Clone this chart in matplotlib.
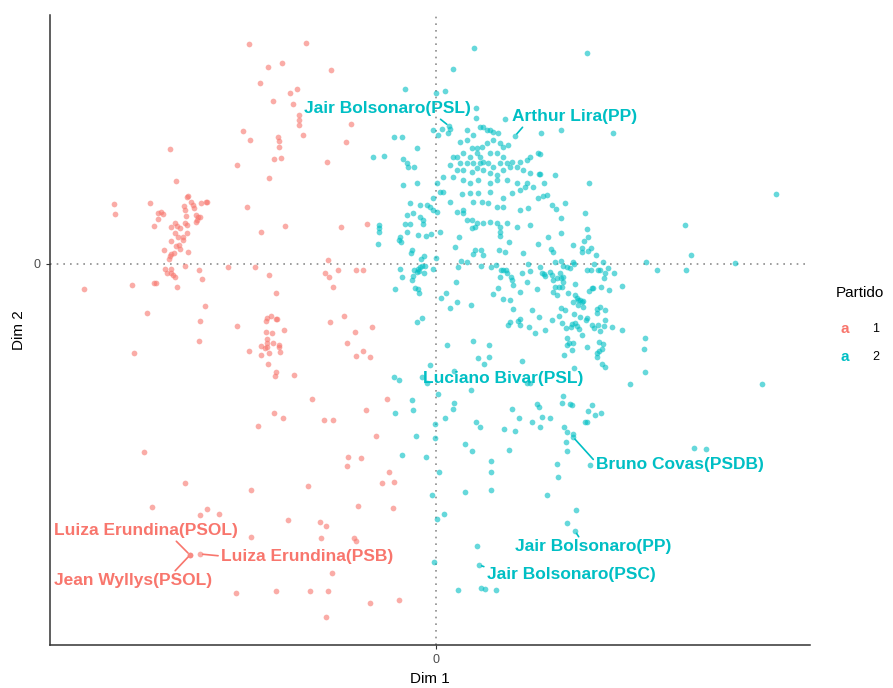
import matplotlib.pyplot as plt
import numpy as np

RED = "#F8766D"
CYAN = "#00BFC4"

# partido 1 (red)
p1_dim1 = [-1.87, -1.68, -1.54, -1.76, -1.46, -1.39, -1.63, -1.43, -1.93, -1.86, -1.58, -1.57, -1.57,
           -1.62, -1.55, -1.99, -1.67, -2.66, -2.60, -3.22, -3.21, -2.86, -2.78, -2.75, -2.73, -2.78,
           -2.82, -2.65, -2.61, -2.59, -2.56, -2.51, -2.49, -2.48, -2.49, -2.45, -2.43, -2.52, -2.51,
           -2.50, -2.42, -2.35, -2.30, -2.29, -2.40, -2.38, -2.36, -2.39, -2.40, -1.89, -1.51, -1.30,
           -1.05, -1.37, -1.37, -1.37, -1.33, -0.85, -0.90, -1.09, -0.95, -0.69, -2.61, -2.58, -2.53,
           -2.49, -2.65, -2.60, -2.57, -2.56, -2.53, -2.62, -2.65, -2.66, -2.67, -2.72, -2.48, -1.75,
           -2.51, -2.71, -2.69, -2.65, -2.65, -2.63, -2.61, -2.59, -2.37, -2.34, -2.82, -2.80, -3.04,
           -3.52, -2.08, -1.81, -1.67, -1.60, -2.31, -2.89, -2.36, -2.37, -1.99, -3.02, -1.69, -1.65,
           -1.60, -1.59, -1.70, -1.52, -1.70, -1.64, -1.69, -1.69, -1.69, -1.71, -1.63, -1.57, -1.57,
           -1.56, -1.67, -1.75, -1.75, -1.87, -1.68, -1.60, -1.61, -1.42, -1.62, -1.53, -1.78, -1.08,
           -1.11, -1.07, -0.98, -0.80, -0.73, -1.03, -0.92, -1.06, -0.64, -0.81, -0.89, -0.80, -0.73,
           -0.66, -1.24, -0.49, -0.70, -1.12, -1.03, -0.60, -2.92, -2.51, -1.85, -2.84, -2.36, -2.29,
           -2.17, -1.48, -1.85, -2.46, -2.46, -2.36, -2.00, -1.60, -0.88, -0.89, -0.75, -0.47, -0.54,
           -0.42, -1.28, -0.78, -0.43, -1.16, -1.10, -1.15, -0.82, -0.80, -1.04, -1.26, -1.08, -0.66,
           -0.37, -1.10]
p1_dim2 = [2.20, 1.97, 2.01, 1.81, 1.71, 1.75, 1.63, 1.60, 1.33, 1.24, 1.27, 1.23, 1.17,
           1.05, 1.06, 0.99, 0.86, 1.15, 0.83, 0.60, 0.50, 0.61, 0.51, 0.52, 0.50, 0.45,
           0.38, 0.37, 0.41, 0.38, 0.36, 0.41, 0.39, 0.68, 0.67, 0.62, 0.59, 0.58, 0.54,
           0.48, 0.56, 0.61, 0.62, 0.62, 0.49, 0.47, 0.47, 0.44, 0.42, 0.57, 0.38, 2.21,
           1.94, 1.49, 1.44, 1.39, 1.29, 1.40, 1.22, 1.02, 0.37, 0.40, 0.31, 0.27, 0.27,
           0.31, 0.23, 0.18, 0.19, 0.15, 0.24, 0.11, 0.10, 0.08, 0.05, 0.14, 0.12, 0.32,
           -0.02, -0.05, -0.09, -0.05, -0.09, -0.11, -0.13, -0.23, -0.06, -0.15, -0.19, -0.19, -0.21,
           -0.25, -0.03, -0.03, -0.11, -0.29, -0.42, -0.49, -0.57, -0.77, -0.62, -0.89, -0.54, -0.52,
           -0.55, -0.55, -0.57, -0.66, -0.68, -0.69, -0.75, -0.79, -0.83, -0.84, -0.79, -0.81, -0.83,
           -0.88, -0.89, -0.82, -0.91, -0.87, -1.00, -1.08, -1.12, -1.11, -1.49, -1.54, -1.62, 0.04,
           -0.09, -0.13, -0.06, -0.06, -0.06, -0.23, -0.52, -0.58, -0.63, -0.68, -0.79, -0.92, -0.87,
           -0.93, -1.35, -1.35, -1.46, -1.56, -1.56, -1.72, -1.88, -2.19, -2.26, -2.43, -2.51, -2.45,
           -2.50, -2.56, -2.73, -2.91, -2.91, -2.90, -3.29, -3.27, -1.93, -2.02, -1.94, -2.08, -2.19,
           -2.18, -2.22, -2.42, -2.44, -2.58, -2.62, -2.74, -2.74, -2.77, -3.09, -3.27, -3.27, -3.39,
           -3.36, -3.53]

# partido 2 (cyan)
p2_dim1 = [0.38, 0.17, -0.31, 0.09, 0.00, 0.40, 0.40, 0.69, 0.13, 0.14, 0.06, -0.03, 0.12, 0.02,
           -0.42, -0.34, -0.19, -0.63, -0.52, -0.33, -0.29, -0.28, -0.22, 0.79, 1.05,
           0.31, 0.37, 0.44, 0.47, 0.51, 0.54, 0.57, 0.62, 0.24, 0.31, 0.36, 0.41, 0.46, 0.51, 0.57,
           0.64, 0.67, 0.72, 0.27, 0.21, 0.17, 0.34, 0.41, 0.44, 0.54, 0.61, 0.67, 0.24, 0.31, 0.37,
           0.44, 0.47, 0.52, 0.57, 0.64, 0.71, 0.76, 0.84, 0.91, 0.94, 1.02, 0.14, 0.21, 0.27, 0.36,
           0.41, 0.47, 0.54, 0.61, 0.67, 0.74, 0.81, 0.87, 0.94, 1.03, 0.07, 0.17, 0.27, 0.34, 0.42,
           0.54, 0.61, 0.71, 0.81, 0.91, 0.97, 1.08, -0.33, -0.19, 0.01, 0.04, 0.07, 0.14, 0.26, 0.34,
           0.42, 0.54, 0.67, 0.76, 0.84, 0.89, 1.02, 1.11, -0.03, -0.26, -0.16, -0.09, -0.06, -0.03,
           0.01, 0.27, 0.37, 0.46, 0.52, 0.61, 0.67, 0.84, 0.92, -0.29, -0.23, -0.16, -0.13, -0.31,
           -0.26, 0.21, 0.27, 0.31, 0.36, 0.41, 0.47, 0.54, 0.61, 0.71, 0.81, 0.94, 0.36, 0.39,
           1.51, 1.25, 1.77, 1.04, 1.04, 1.19, 1.53, 1.07, 1.16, 1.20, 1.29, 1.49, 1.25, 1.51, 2.49, 3.40,
           -0.57, -0.57, -0.57, -0.58, -0.36, -0.37, -0.35, -0.29, -0.18, -0.10, -0.05, -0.13, 0.04,
           -0.24, -0.25, -0.12, -0.15, 0.00, -0.16, -0.18, -0.14, -0.11, -0.19, -0.17, -0.12, -0.22,
           -0.03, -0.36, -0.34, -0.23, -0.24, -0.21, -0.18, -0.17, -0.41, 0.19, 0.23, 0.25, 0.31, 0.22,
           0.37, 0.39, 0.45, 0.47, 0.45, 0.55, 0.60, 0.63, 0.69, 0.73, 0.64, 0.64, 0.64, 0.87, 1.02,
           1.12, 0.65, 0.67, 0.70, 0.71, 0.64, 0.75, 0.76, 0.77, 0.86, 0.92, 0.94, 1.04, 1.08, 1.09,
           0.91, 1.01, 0.84, 0.62, 0.57, 0.20, 0.10, 0.05, 0.21, 0.14, 0.35, 0.67, 0.74, 0.77, 0.96,
           1.03, -0.19, -0.14, 0.74, 0.72, 0.82, 0.84, 0.84, 0.93, 0.99, 1.09, 0.11, 0.37, 0.53, 0.42,
           0.53, 0.48, 0.86, -0.06, -0.42, -0.37, -0.14, -0.09, 0.18, 0.35, 0.02, -0.24, -0.23, -0.41,
           0.18, 0.17, 0.09, 0.40, 0.44, 0.68, 0.79, 0.76, 0.83, 0.96, 1.04, 1.01, 1.03, 1.06, 1.14,
           -0.01, -0.01, -0.20, 0.91, 0.94,
           2.55, 2.99, 2.10, 2.21, 2.50, 1.52, 1.48, 1.46, 1.46, 1.52, 1.55, 1.60, 1.37, 1.25, 1.15,
           1.17, 1.19, 1.25, 1.27, 1.37, 1.38, 1.31, 1.34, 1.58, 1.67, 1.51, 1.55, 1.62, 1.64, 1.69,
           1.72, 1.78, 1.68, 1.06, 1.14, 1.16, 1.17, 1.21, 1.24, 1.25, 1.27, 1.26, 1.23, 1.19, 1.27,
           1.17, 1.21, 1.32, 1.39, 1.53, 1.56, 1.57, 1.65, 1.73, 1.86, 1.39, 1.41, 1.42, 1.44, 1.46,
           1.47, 1.37, 1.42, 1.47, 1.25, 1.29, 1.61, 1.64, 1.69, 1.61, 1.38, 1.44, 1.51, 1.50, 1.69,
           1.16, 1.23, 1.26, 1.30, 1.35, 1.36, 1.39, 1.41, 1.43, 1.56, 1.58, 1.62, 1.64, 1.68, 1.76,
           1.86, 1.46, 1.31, 1.33, 1.31, 1.37, 1.51, 1.63, 1.67, 1.66, 1.63, 1.61, 1.61, 1.36, 1.28,
           1.66, 1.69, 1.38, 2.09, 2.08, 2.09, 1.94, 3.26, 1.27, 1.26, 1.34, 1.36, 1.56, 1.52, 1.59,
           1.65, 1.49, 1.51, 1.28, 1.31, 1.37, 1.37,
           -0.34, -0.10, 0.29, 0.36, 0.73, 0.55, 0.55, 0.55, 0.03, 0.29, -0.04, 0.08, 0.01, 1.11,
           0.41, 0.43, -0.02, 0.22, 0.45, 0.49, 0.60,
           1.30, 1.31, 1.54, 1.21, 1.22, 2.58, 2.70, 1.40, 1.31, 1.39]
p2_dim2 = [2.16, 1.95, 1.75, 1.73, 1.71, 1.56, 1.46, 1.45, 1.38, 1.35, 1.35, 1.34, 1.31, 1.29,
           1.27, 1.27, 1.16, 1.07, 1.08, 1.05, 1.01, 0.97, 0.97, 1.28, 1.31,
           1.34, 1.29, 1.37, 1.37, 1.34, 1.34, 1.32, 1.31, 1.22, 1.24, 1.16, 1.16, 1.17, 1.21, 1.24,
           1.21, 1.17, 1.19, 1.11, 1.07, 1.07, 1.07, 1.11, 1.07, 1.11, 1.11, 1.07, 1.01, 1.01, 1.01,
           1.01, 1.02, 1.01, 0.97, 1.01, 1.01, 1.02, 1.02, 1.04, 1.07, 1.11, 0.99, 0.94, 0.94, 0.92,
           0.96, 0.94, 0.91, 0.89, 0.94, 0.97, 0.97, 0.94, 0.91, 0.90, 0.87, 0.87, 0.84, 0.81, 0.84,
           0.81, 0.84, 0.84, 0.81, 0.81, 0.77, 0.81, 0.79, 0.81, 0.81, 0.72, 0.72, 0.62, 0.70, 0.71,
           0.71, 0.72, 0.66, 0.71, 0.74, 0.77, 0.66, 0.69, 0.66, 0.61, 0.59, 0.59, 0.57, 0.54,
           0.52, 0.54, 0.62, 0.62, 0.61, 0.57, 0.57, 0.54, 0.56, 0.49, 0.51, 0.47, 0.44, 0.40,
           0.40, 0.52, 0.51, 0.44, 0.44, 0.41, 0.41, 0.42, 0.41, 0.41, 0.37, 0.39, 0.36, 0.37,
           2.11, 1.34, 1.31, 1.10, 0.90, 0.89, 0.81, 0.68, 0.59, 0.55, 0.61, 0.51, 0.46, 0.35, 0.39, 0.70,
           0.39, 0.36, 0.32, 0.20, 0.27, 0.24, 0.22, 0.32, 0.29, 0.28, 0.30, 0.40, 0.32,
           0.14, 0.11, 0.08, 0.05, 0.06, -0.03, -0.05, -0.02, -0.02, -0.08, -0.07, -0.09, -0.06,
           -0.05, -0.05, -0.13, -0.12, -0.16, -0.24, -0.25, -0.29, -0.25, 0.17, 0.27, 0.03, 0.02, -0.03,
           0.10, 0.14, 0.14, 0.09, -0.02, -0.03, -0.01, 0.14, 0.12, 0.22, 0.37, 0.32, 0.28, 0.11, 0.20,
           0.27, -0.06, -0.06, -0.06, -0.09, -0.13, -0.13, -0.16, -0.21, -0.09, 0.00, -0.07, -0.03, -0.10, -0.12,
           -0.18, -0.25, -0.28, -0.24, -0.30, -0.18, -0.29, -0.34, -0.38, -0.44, -0.41, -0.35, -0.36, -0.45, -0.46,
           -0.53, -0.58, -0.54, -0.58, -0.61, -0.57, -0.55, -0.61, -0.63, -0.69, -0.66, -0.81, -0.77, -0.81, -0.94,
           -0.93, -1.00, -0.97, -1.01, -1.13, -1.16, -1.13, -1.19, -1.07, -1.26, -1.30, -1.36, -1.46, -1.49,
           -1.39, -1.45, -1.54, -1.58, -1.63, -1.65, -1.67, -1.45, -1.54, -1.58, -1.63, -1.40, -1.43, -1.53, -1.54,
           -1.60, -1.74, -1.72, -1.19, -1.19,
           0.09, 0.01, 0.02, -0.06, -0.06, 0.27, 0.23, 0.16, 0.12, 0.13, 0.16, 0.09, 0.19, 0.31, 0.15,
           0.12, 0.02, 0.03, -0.02, 0.02, 0.00, -0.03, -0.04, 0.00, 0.02, -0.06, -0.06, -0.06, -0.06, -0.09,
           -0.04, -0.09, -0.14, -0.09, -0.08, -0.11, -0.16, -0.14, -0.09, -0.14, -0.18, -0.23, -0.23, -0.23, -0.13,
           -0.28, -0.31, -0.29, -0.20, -0.27, -0.24, -0.24, -0.23, -0.26, -0.22, -0.31, -0.34, -0.36, -0.36, -0.38,
           -0.37, -0.38, -0.41, -0.43, -0.44, -0.46, -0.45, -0.43, -0.46, -0.49, -0.50, -0.53, -0.54, -0.56, -0.56,
           -0.56, -0.52, -0.59, -0.64, -0.63, -0.60, -0.59, -0.62, -0.65, -0.61, -0.64, -0.61, -0.67, -0.62, -0.63,
           -0.66, -0.71, -0.74, -0.79, -0.81, -0.79, -0.83, -0.78, -0.80, -0.85, -0.87, -0.89, -0.93, -0.86, -0.91,
           -1.00, -1.03, -1.04, -0.74, -0.85, -1.08, -1.20, -1.20, -1.32, -1.39, -1.40, -1.41, -1.41, -1.47, -1.51,
           -1.49, -1.58, -1.58, -1.63, -1.68, -1.70, -1.73,
           -1.91, -1.93, -1.80, -1.87, -1.86, -1.97, -2.08, -2.26, -2.08, -2.28, -2.31, -2.50, -2.55, -2.31,
           -2.82, -3.01, -2.98, -3.26, -3.24, -3.25, -3.26,
           -1.78, -1.87, -2.01, -2.00, -2.13, -1.84, -1.85, -2.46, -2.59, -2.67]

# labelled deputies: name, point, label centre, relpos of segment, party colour
lab_names = ["Jair Bolsonaro(PSL)", "Arthur Lira(PP)", "Luciano Bivar(PSL)", "Bruno Covas(PSDB)",
             "Jair Bolsonaro(PP)", "Jair Bolsonaro(PSC)", "Luiza Erundina(PSOL)", "Jean Wyllys(PSOL)",
             "Luiza Erundina(PSB)"]
lab_pt_x = [0.13, 0.79, 0.67, 1.37, 1.39, 0.43, -2.46, -2.46, -2.36]
lab_pt_y = [1.38, 1.28, -1.14, -1.73, -2.67, -3.01, -2.91, -2.91, -2.90]
lab_tx_x = [-0.49, 1.39, 0.67, 2.44, 1.57, 1.35, -2.90, -3.03, -1.29]
lab_tx_y = [1.55, 1.47, -1.14, -2.00, -2.83, -3.11, -2.67, -3.17, -2.92]
lab_rel = [(0.8, 0), (0.1, 0), (0.5, 0.5), (0, 0.6), (0.42, 1), (0, 1), (0.65, 0), (0.75, 1), (0, 0.5)]
lab_col = [CYAN, CYAN, CYAN, CYAN, CYAN, CYAN, RED, RED, RED]

plt.rcParams["font.family"] = ["Liberation Sans", "DejaVu Sans"]
fig = plt.figure(figsize=(8.93, 6.88), dpi=100)
ax = fig.add_axes([50 / 893, 43 / 688, 760 / 893, 630 / 688])

ax.axvline(0, color="#8c8c8c", linestyle=(0, (1, 3)), linewidth=1.2, zorder=0)
ax.axhline(0, color="#8c8c8c", linestyle=(0, (1, 3)), linewidth=1.2, zorder=0)

ax.scatter(p1_dim1, p1_dim2, s=17, color=RED, alpha=0.6, linewidths=0)
ax.scatter(p2_dim1, p2_dim2, s=17, color=CYAN, alpha=0.6, linewidths=0)

for i in range(len(lab_names)):
    if lab_names[i] == "Luciano Bivar(PSL)":
        ax.text(lab_tx_x[i], lab_tx_y[i], lab_names[i], color=lab_col[i], fontsize=12.5,
                fontweight="bold", ha="center", va="center")
        continue
    ax.annotate(lab_names[i], xy=(lab_pt_x[i], lab_pt_y[i]), xytext=(lab_tx_x[i], lab_tx_y[i]),
                color=lab_col[i], fontsize=12.5, fontweight="bold", ha="center", va="center",
                arrowprops=dict(arrowstyle="-", color=lab_col[i], lw=1.2, shrinkA=0, shrinkB=2,
                                relpos=lab_rel[i]))

ax.set_xlim(-3.86, 3.74)
ax.set_ylim(-3.81, 2.49)
ax.set_xticks([0])
ax.set_yticks([0])
ax.tick_params(colors="#333333", labelcolor="#4d4d4d", labelsize=9, length=3)
for s in ["top", "right"]:
    ax.spines[s].set_visible(False)
for s in ["left", "bottom"]:
    ax.spines[s].set_color("#333333")
    ax.spines[s].set_linewidth(1.1)
ax.set_xlabel("Dim 1", fontsize=11, labelpad=4)
ax.set_ylabel("Dim 2", fontsize=11, labelpad=6)

# legend
fig.text(836 / 893, 1 - 293 / 688, "Partido", fontsize=11, va="center", ha="left")
fig.text(845 / 893, 1 - 329 / 688, "a", color=RED, fontsize=11, fontweight="bold", va="center", ha="center")
fig.text(872 / 893, 1 - 329 / 688, "1", fontsize=9, va="center", ha="left")
fig.text(845 / 893, 1 - 357 / 688, "a", color=CYAN, fontsize=11, fontweight="bold", va="center", ha="center")
fig.text(872 / 893, 1 - 357 / 688, "2", fontsize=9, va="center", ha="left")

fig.savefig("out.png", dpi=100)
